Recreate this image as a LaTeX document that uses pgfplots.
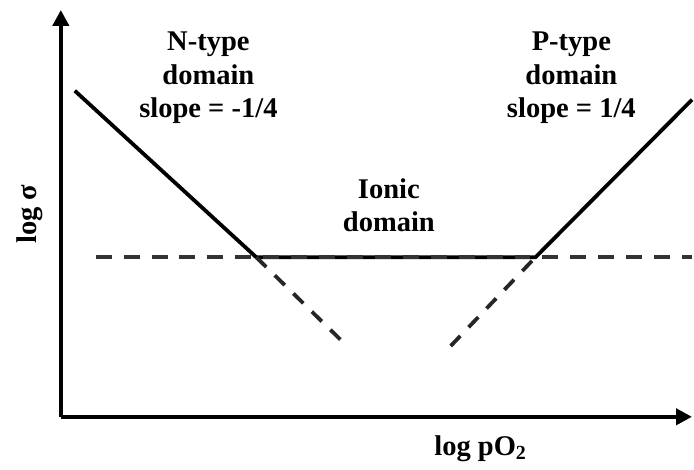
\documentclass[border=0pt]{standalone}
\usepackage{fontspec}
\setmainfont{Liberation Serif}
\usepackage{pgfplots}
\pgfplotsset{compat=1.18}
\usetikzlibrary{arrows.meta}

% coordinates are in reference pixels, y measured from the bottom
\tikzset{lbl/.style={font=\fontsize{14.3}{16.6}\selectfont\bfseries, align=center}}
\begin{document}
\begin{tikzpicture}
\begin{axis}[
    scale only axis,
    width=316.5pt, height=204pt,
    xmin=61, xmax=694,
    ymin=53, ymax=461,
    axis lines=left,
    axis line style={line width=2pt, -{Triangle[length=8pt,width=8pt]}},
    xtick=\empty, ytick=\empty,
    clip=false,
]
\path (axis cs:0,0) rectangle (axis cs:694,471);

% solid conductivity curve
\addplot[line width=1.9pt, black] coordinates {(75,380) (257,213) (537,213) (694,371)};

% dashed extrapolations
\addplot[line width=1.9pt, black!80, dash pattern=on 8pt off 6pt] coordinates {(96,213) (694,213)};
\addplot[line width=1.9pt, black!85, dash pattern=on 7pt off 6pt] coordinates {(257,213) (349,123)};
\addplot[line width=1.9pt, black!85, dash pattern=on 7pt off 6pt] coordinates {(452,124) (537,213)};

\node[lbl] at (axis cs:209,393) {N-type\\domain\\slope = -1/4};
\node[lbl] at (axis cs:573,393) {P-type\\domain\\slope = 1/4};
\node[lbl] at (axis cs:390,265) {Ionic\\domain};
\node[lbl, rotate=90] at (axis cs:30,256) {log σ};
\node[lbl] at (axis cs:482,21) {log pO\textsubscript{2}};
\end{axis}
\end{tikzpicture}
\end{document}
